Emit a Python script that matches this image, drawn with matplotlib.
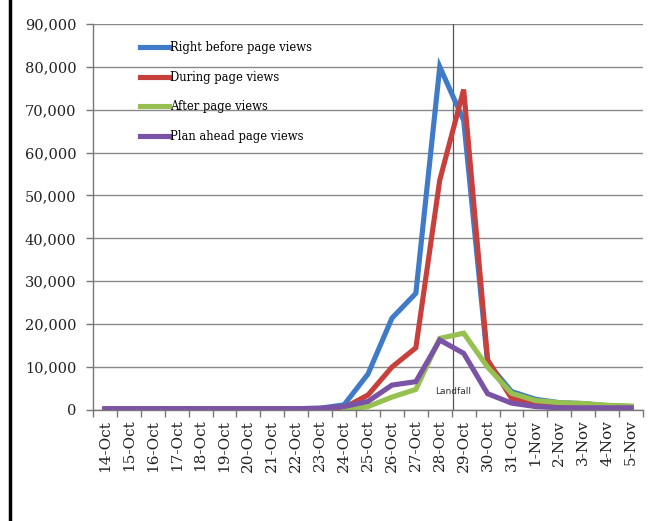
import numpy as np
import matplotlib.pyplot as plt
from matplotlib.lines import Line2D
from matplotlib.ticker import FuncFormatter, MultipleLocator

# 页面浏览量数据（按日期）
dates = ["14-Oct", "15-Oct", "16-Oct", "17-Oct", "18-Oct", "19-Oct", "20-Oct",
         "21-Oct", "22-Oct", "23-Oct", "24-Oct", "25-Oct", "26-Oct", "27-Oct",
         "28-Oct", "29-Oct", "30-Oct", "31-Oct", "1-Nov", "2-Nov", "3-Nov",
         "4-Nov", "5-Nov"]
right_before = [200, 200, 200, 300, 200, 200, 200, 200, 300, 400, 1200, 8400,
                21400, 27200, 80000, 67500, 11000, 4300, 2500, 1700, 1500, 1000, 800]
during = [200, 200, 200, 200, 200, 200, 200, 200, 200, 300, 500, 3500,
          10000, 14500, 53600, 74700, 11700, 2700, 1500, 1000, 800, 500, 400]
after = [np.nan] * 10 + [0, 800, 3000, 4800, 16700, 17900, 10000, 3900,
                         2200, 1700, 1500, 1100, 900]
plan_ahead = [300, 300, 300, 300, 300, 300, 300, 300, 300, 400, 800, 2000,
              5800, 6600, 16300, 13200, 3800, 1600, 800, 500, 500, 500, 500]
landfall_x = 14.56

series = [
    ("Right before page views", right_before, "#3F7BC8"),
    ("During page views", during, "#C8403B"),
    ("After page views", after, "#96C04F"),
    ("Plan ahead page views", plan_ahead, "#7A52A6"),
]

fig = plt.figure(figsize=(6.58, 5.21), dpi=100)
ax = fig.add_axes([0.1413, 0.2131, 0.836, 0.741])

x = np.arange(len(dates))
for label, vals, color in series:
    ax.plot(x, vals, color=color, lw=3.7, label=label, solid_joinstyle="miter")

# 登陆时刻竖线
ax.axvline(landfall_x, color="#555555", lw=0.9, zorder=1)
ax.text(landfall_x, 4400, "Landfall", ha="center", va="center",
        fontsize=6.5, color="#333333", family="DejaVu Sans")

ax.set_xlim(-0.5, len(dates) - 0.5)
ax.set_ylim(0, 90000)
ax.yaxis.set_major_locator(MultipleLocator(10000))
ax.yaxis.set_major_formatter(FuncFormatter(lambda v, p: f"{int(v):,}"))
ax.grid(axis="y", color="#8a8a8a", lw=1.0, zorder=0)
ax.set_axisbelow(True)

# 类别标签居中，刻度线位于类别之间
ax.set_xticks(x)
ax.set_xticklabels(dates, rotation=90, family="DejaVu Serif", fontsize=11,
                   color="#222222")
ax.set_xticks(np.arange(-0.5, len(dates)), minor=True)
ax.tick_params(axis="x", which="major", length=0, pad=7)
ax.tick_params(axis="x", which="minor", length=5, color="#777777", width=1)
ax.tick_params(axis="y", length=5, color="#777777", width=1, pad=7,
               labelsize=10.5, labelcolor="#222222")
for t in ax.get_yticklabels():
    t.set_family("DejaVu Serif")

for s in ["top", "right"]:
    ax.spines[s].set_visible(False)
for s in ["left", "bottom"]:
    ax.spines[s].set_color("#777777")
    ax.spines[s].set_linewidth(1)

ax.legend(loc="upper left", bbox_to_anchor=(0.067, 0.982), frameon=False,
          prop={"family": "DejaVu Serif", "size": 8.3}, handlelength=2.5,
          handletextpad=0.1, labelspacing=1.43)

# 左侧黑色边框
fig.add_artist(Line2D([0.0155, 0.0155], [0, 1], color="black", lw=2.5,
                      transform=fig.transFigure))

fig.savefig("out.png", dpi=100)
